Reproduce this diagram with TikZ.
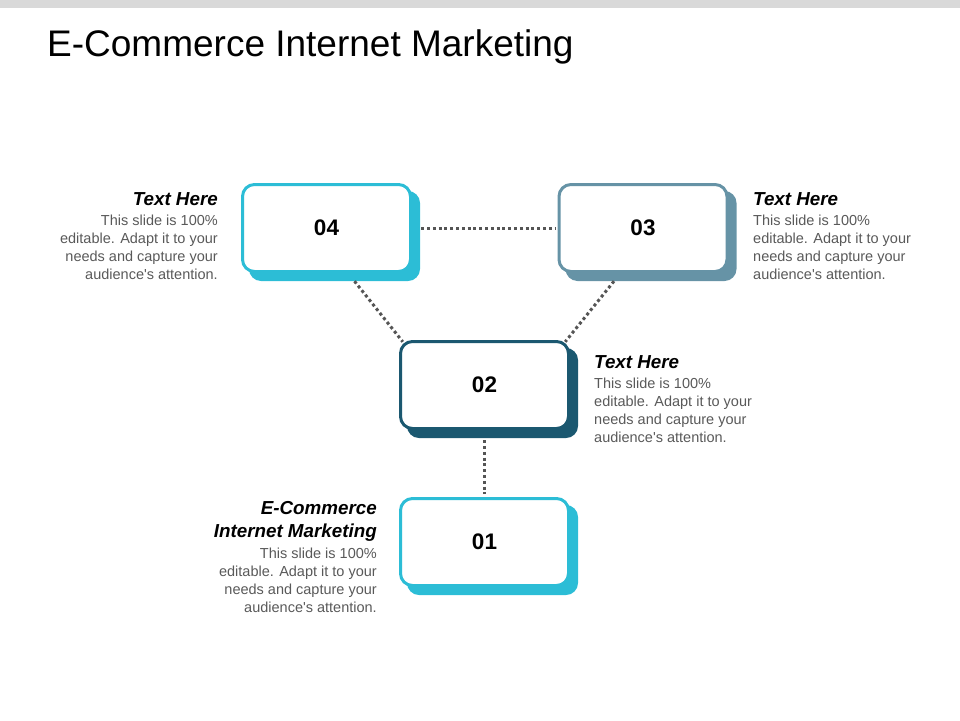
\documentclass[tikz,border=0pt]{standalone}
\usepackage{fontspec}
\setmainfont{Liberation Sans}
\usetikzlibrary{calc}
\definecolor{cyanc}{HTML}{2CBDD6}
\definecolor{steelc}{HTML}{6693A6}
\definecolor{darkc}{HTML}{1B5870}
\definecolor{bodyc}{HTML}{595959}
\definecolor{dotc}{HTML}{555555}
\definecolor{barc}{HTML}{D9D9D9}
\newcommand\rlines[1]{\vtop{\halign{\hfil##\cr#1\crcr}}}
\newcommand\llines[1]{\vtop{\halign{##\hfil\cr#1\crcr}}}
\newcommand\apo{\textquotesingle}
\tikzset{
  boxfront/.style={draw=#1, line width=3pt, fill=white, rounded corners=12pt,
    minimum width=168pt, minimum height=87pt, inner sep=0pt,
    font=\fontsize{22.5}{26}\selectfont\bfseries},
  boxshadow/.style={fill=#1, rounded corners=12pt,
    minimum width=171pt, minimum height=90pt, inner sep=0pt},
  dotline/.style={draw=dotc, line width=3pt, dash pattern=on 3pt off 2.8pt},
  headtext/.style={inner sep=0pt, text=black, font=\fontsize{18.8}{23}\selectfont\bfseries\itshape},
  bodytext/.style={inner sep=0pt, text=bodyc, font=\fontsize{14.5}{18}\selectfont},
}
\begin{document}
\begin{tikzpicture}[x=1pt,y=-1pt]
\useasboundingbox (0,0) rectangle (960,720);
\fill[barc] (0,0) rectangle (960,8);
\node[anchor=base west, inner sep=0pt, font=\fontsize{37}{44}\selectfont] (title) at (47,56) {E-Commerce Internet Marketing};
% shadows
\node[boxshadow=cyanc] (s04) at (334.5,236) {};
\node[boxshadow=steelc] (s03) at (651,236) {};
\node[boxshadow=darkc] (s02) at (492.5,393) {};
\node[boxshadow=cyanc] (s01) at (492.5,550) {};
% connector anchor coordinates
\coordinate (c04b) at ($(s04.south)+(20,0)$);
\coordinate (c03b) at ($(s03.south)+(-37,0)$);
% connectors
\draw[dotline] (c04b) -- ($(s02.north west)+(-4,-6)$);
\draw[dotline] (c03b) -- ($(s02.north east)+(-13,-6)$);
% fronts
\node[boxfront=cyanc] (b04) at (326.5,228) {04};
\node[boxfront=steelc] (b03) at (643,228) {03};
\node[boxfront=darkc] (b02) at (484.5,385) {02};
\node[boxfront=cyanc] (b01) at (484.5,542) {01};
\draw[dotline] ($(b04.east -| s04.east)+(1,0)$) -- ($(b03.west)+(-2,0)$);
\draw[dotline] ($(b02.south |- s02.south)+(0,2)$) -- ($(b01.north)+(0,-3)$);
% texts
\node[headtext, anchor=base east] (h04) at (218,205) {Text Here};
\node[bodytext, anchor=base east] (t04) at (218,225) {\rlines{This slide is 100\%\cr editable. Adapt it to your\cr needs and capture your\cr audience\apo s attention.}};
\node[headtext, anchor=base west] (h03) at (753,205) {Text Here};
\node[bodytext, anchor=base west] (t03) at (753,225) {\llines{This slide is 100\%\cr editable. Adapt it to your\cr needs and capture your\cr audience\apo s attention.}};
\node[headtext, anchor=base west] (h02) at (594,368) {Text Here};
\node[bodytext, anchor=base west] (t02) at (594,388) {\llines{This slide is 100\%\cr editable. Adapt it to your\cr needs and capture your\cr audience\apo s attention.}};
\node[headtext, anchor=base east] (h01) at (377,514) {\rlines{E-Commerce\cr Internet Marketing}};
\node[bodytext, anchor=base east] (t01) at (377,558) {\rlines{This slide is 100\%\cr editable. Adapt it to your\cr needs and capture your\cr audience\apo s attention.}};
\end{tikzpicture}
\end{document}
